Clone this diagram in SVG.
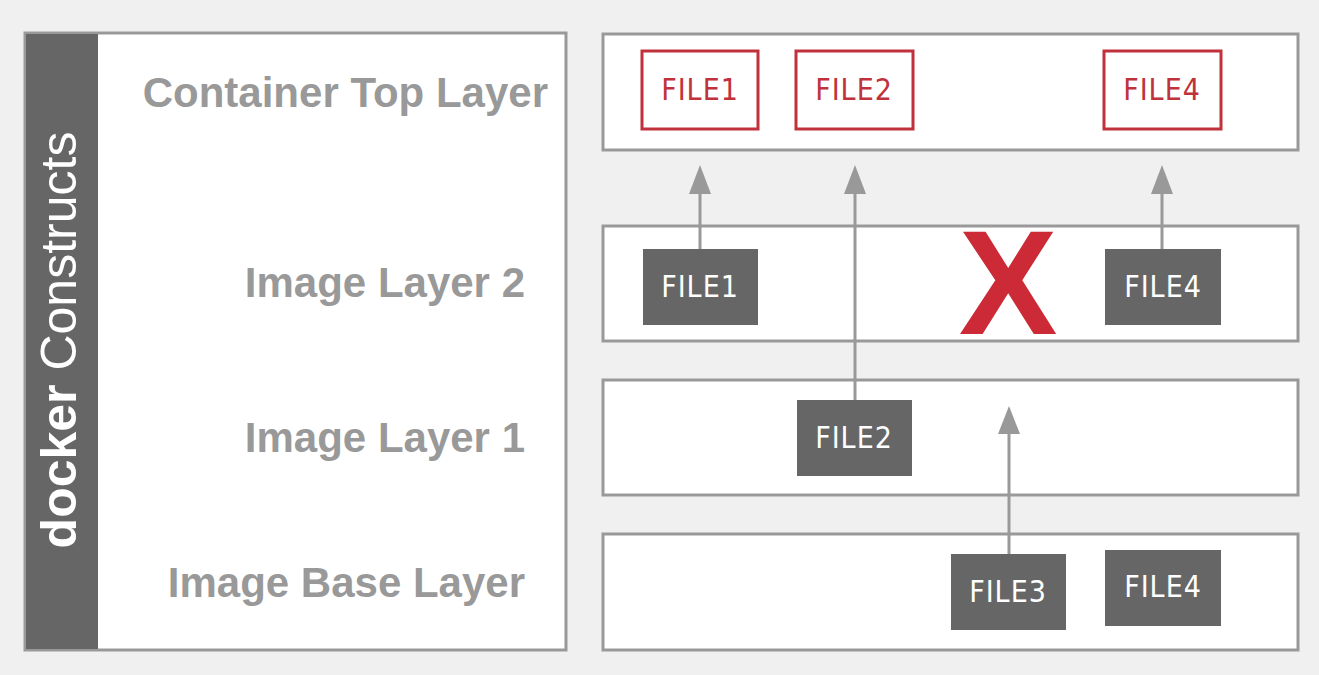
<svg xmlns="http://www.w3.org/2000/svg" width="1319" height="675" viewBox="0 0 1319 675">
<defs>
<style>
.panel{fill:#fff;stroke:#999;stroke-width:3}
.lbl{font-family:"Liberation Sans",Arial,sans-serif;font-weight:bold;font-size:42px;fill:#999;text-anchor:end}
.rbox{fill:#fff;stroke:#c0313b;stroke-width:3}
.dbox{fill:#666}
.ft{font-family:"DejaVu Sans Condensed","DejaVu Sans",sans-serif;font-size:30px;letter-spacing:1px;text-anchor:middle}
.ftr{fill:#c0313b}
.ftw{fill:#fff}
.conn{stroke:#999;stroke-width:3;fill:none}
.head{fill:#999}
</style>
</defs>
<rect x="0" y="0" width="1319" height="675" fill="#f0f0f0"/>
<g id="left-panel">
<rect class="panel" x="25" y="33" width="541" height="617"/>
<rect x="26" y="34" width="72" height="615" fill="#666"/>
<text transform="translate(76,340) rotate(-90)" text-anchor="middle" font-family="Liberation Sans,Arial,sans-serif" font-size="50" fill="#fff"><tspan font-weight="bold">docker</tspan> Constructs</text>
<text class="lbl" x="548" y="107">Container Top Layer</text>
<text class="lbl" x="525" y="297">Image Layer 2</text>
<text class="lbl" x="525" y="452">Image Layer 1</text>
<text class="lbl" x="525" y="597">Image Base Layer</text>
</g>
<g id="container-top-layer">
<rect class="panel" x="603" y="34" width="695" height="116"/>
</g>
<g id="image-layer-2">
<rect class="panel" x="603" y="226" width="695" height="115"/>
</g>
<g id="image-layer-1">
<rect class="panel" x="603" y="380" width="695" height="115"/>
</g>
<g id="image-base-layer">
<rect class="panel" x="603" y="534" width="695" height="116"/>
</g>
<g id="connectors">
<line class="conn" x1="700" y1="249" x2="700" y2="190"/>
<path class="head" d="M689,194 L700,165 L711,194 Z"/>
<line class="conn" x1="855" y1="400" x2="855" y2="190"/>
<path class="head" d="M844,194 L855,165 L866,194 Z"/>
<line class="conn" x1="1162" y1="249" x2="1162" y2="190"/>
<path class="head" d="M1151,194 L1162,165 L1173,194 Z"/>
<line class="conn" x1="1009" y1="554" x2="1009" y2="430"/>
<path class="head" d="M998,434 L1009,406 L1020,434 Z"/>
</g>
<g id="top-file1">
<rect class="rbox" x="642" y="51" width="116" height="78"/>
<text class="ft ftr" x="700" y="100">FILE1</text>
</g>
<g id="top-file2">
<rect class="rbox" x="796" y="51" width="117" height="78"/>
<text class="ft ftr" x="854" y="100">FILE2</text>
</g>
<g id="top-file4">
<rect class="rbox" x="1104" y="51" width="117" height="78"/>
<text class="ft ftr" x="1162" y="100">FILE4</text>
</g>
<g id="l2-file1">
<rect class="dbox" x="643" y="249" width="115" height="76"/>
<text class="ft ftw" x="700" y="297">FILE1</text>
</g>
<g id="l2-x">
<text x="1008" y="334" text-anchor="middle" font-family="Liberation Sans,Arial,sans-serif" font-weight="bold" font-size="148" fill="#cc2a36">X</text>
</g>
<g id="l2-file4">
<rect class="dbox" x="1105" y="249" width="116" height="76"/>
<text class="ft ftw" x="1163" y="297">FILE4</text>
</g>
<g id="l1-file2">
<rect class="dbox" x="797" y="400" width="115" height="76"/>
<text class="ft ftw" x="854" y="448">FILE2</text>
</g>
<g id="base-file3">
<rect class="dbox" x="951" y="554" width="115" height="76"/>
<text class="ft ftw" x="1008" y="602">FILE3</text>
</g>
<g id="base-file4">
<rect class="dbox" x="1105" y="550" width="116" height="76"/>
<text class="ft ftw" x="1163" y="597">FILE4</text>
</g>
</svg>
